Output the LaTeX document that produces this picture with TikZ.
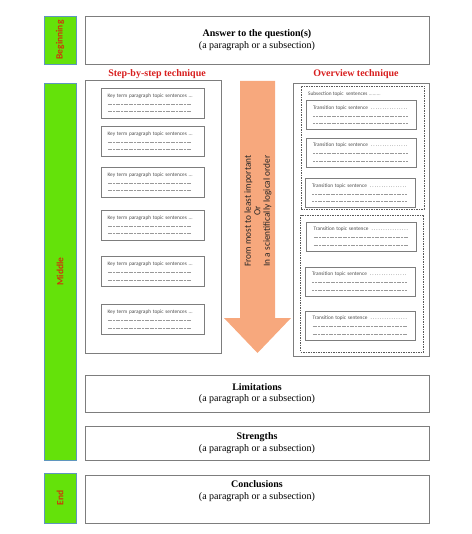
\documentclass[tikz,border=0pt]{standalone}
\usepackage{fontspec}
\setmainfont{Liberation Serif}
\newfontfamily\carlito{Carlito}
\definecolor{bargreen}{RGB}{100,226,10}
\definecolor{barline}{RGB}{95,150,190}
\definecolor{labelred}{RGB}{205,55,10}
\definecolor{titlered}{RGB}{215,30,30}
\definecolor{boxgray}{RGB}{125,125,125}
\definecolor{arrowpink}{RGB}{247,168,125}
\newcommand{\dashrow}[1]{\leavevmode\hbox to #1{\color{black!40}\xleaders\hbox to 2.6pt{\hss\rule[0.4ex]{2pt}{0.25pt}\hss}\hfill}}

\begin{document}
\begin{tikzpicture}[x=1pt, y=-1pt,
  sidebar/.style={draw=barline, fill=bargreen, line width=0.8pt, rotate=90, minimum height=32pt, inner sep=0pt, text=labelred, font=\carlito\bfseries\fontsize{9.5}{10}\selectfont},
  bigbox/.style={draw=boxgray, line width=0.8pt, minimum width=344pt, align=center, inner sep=0pt, font=\fontsize{10}{11.5}\selectfont},
  bigtext/.style={align=center, inner sep=0pt, font=\fontsize{10}{11.5}\selectfont},
  frame/.style={draw=boxgray, line width=0.8pt, minimum width=136pt, minimum height=273pt, inner sep=0pt},
  dashframe/.style={draw=black!65, line width=0.6pt, dash pattern=on 1.5pt off 1pt, minimum width=123pt, inner sep=0pt},
  techtitle/.style={text=titlered, font=\bfseries\fontsize{10}{12}\selectfont, inner sep=0pt},
  keybox/.style={draw=boxgray, line width=0.7pt, text width=90pt, inner xsep=6.5pt, inner ysep=0pt, minimum height=30pt, align=left, text=black!70, font=\carlito\fontsize{5.3}{7.5}\selectfont},
  transbox/.style={draw=boxgray, line width=0.7pt, text width=96pt, inner xsep=7pt, inner ysep=0pt, minimum height=29pt, align=left, text=black!70, font=\carlito\fontsize{5.3}{7.5}\selectfont}]
\useasboundingbox (0,0) rectangle (471,534);

% left bars
\node[sidebar, minimum width=48pt] (beg) at (60,40) {Beginning};
\node[sidebar, minimum width=377pt] (mid) at (60,271.5) {Middle};
\node[sidebar, minimum width=50pt] (end) at (60,498) {End};

% answer box
\node[bigbox, minimum height=48pt] (answer) at (257,40) {\textbf{Answer to the question(s)}\\(a paragraph or a subsection)};

% step-by-step column
\node[techtitle] (steptitle) at (157,74) {Step-by-step technique};
\node[frame] (stepframe) at (153,216.5) {};
\node[keybox] (k1) at (152.5,103) {Key term paragraph topic sentences ...\\\dashrow{84pt}\\\dashrow{84pt}};
\node[keybox] (k2) at (152.5,141) {Key term paragraph topic sentences ...\\\dashrow{84pt}\\\dashrow{84pt}};
\node[keybox] (k3) at (152.5,182) {Key term paragraph topic sentences ...\\\dashrow{84pt}\\\dashrow{84pt}};
\node[keybox] (k4) at (152.5,225) {Key term paragraph topic sentences ...\\\dashrow{84pt}\\\dashrow{84pt}};
\node[keybox] (k5) at (152.5,271.5) {Key term paragraph topic sentences ...\\\dashrow{84pt}\\\dashrow{84pt}};
\node[keybox] (k6) at (152.5,319.5) {Key term paragraph topic sentences ...\\\dashrow{84pt}\\\dashrow{84pt}};

% order arrow
\fill[arrowpink] (240,81) -- (275,81) -- (275,318) -- (291,318) -- (257.5,353) -- (224,318) -- (240,318) -- cycle;
\node[rotate=90, align=center, text=black!85, font=\carlito\fontsize{9.3}{9.5}\selectfont] (order) at (258,211) {From most to least important\\Or\\In a scientifically logical order};

% overview column
\node[techtitle] (overtitle) at (356,74) {Overview technique};
\node[frame] (overframe) at (361,219.5) {};
\node[dashframe, minimum height=123pt] (sub1) at (362.5,147.5) {};
\node[dashframe, minimum height=137pt] (sub2) at (362,283.5) {};
\node[anchor=west, inner sep=0pt, text=black!70, font=\carlito\fontsize{5.3}{7.5}\selectfont] (subtxt) at (308,94) {Subsection topic\ \ sentences \textcolor{black!50}{.........}};
\node[transbox] (t1) at (361,115) {Transition topic sentence \dotfill\\\dashrow{95pt}\\\dashrow{95pt}};
\node[transbox] (t2) at (361,152.5) {Transition topic sentence \dotfill\\\dashrow{95pt}\\\dashrow{95pt}};
\node[transbox] (t3) at (360,193) {Transition topic sentence \dotfill\\\dashrow{95pt}\\\dashrow{95pt}};
\node[transbox] (t4) at (361.5,236.5) {Transition topic sentence \dotfill\\\dashrow{95pt}\\\dashrow{95pt}};
\node[transbox] (t5) at (360,281.5) {Transition topic sentence \dotfill\\\dashrow{95pt}\\\dashrow{95pt}};
\node[transbox] (t6) at (360.5,325.5) {Transition topic sentence \dotfill\\\dashrow{95pt}\\\dashrow{95pt}};

% lower boxes
\node[bigbox, minimum height=37pt] (limits) at (257,393.5) {\textbf{Limitations}\\(a paragraph or a subsection)};
\node[bigbox, minimum height=34pt] (strengths) at (257,443) {\textbf{Strengths}\\(a paragraph or a subsection)};
\node[bigbox, minimum height=48pt] (concl) at (257,499) {};
\node[bigtext] (concltxt) at (257,491) {\textbf{Conclusions}\\(a paragraph or a subsection)};
\end{tikzpicture}
\end{document}
